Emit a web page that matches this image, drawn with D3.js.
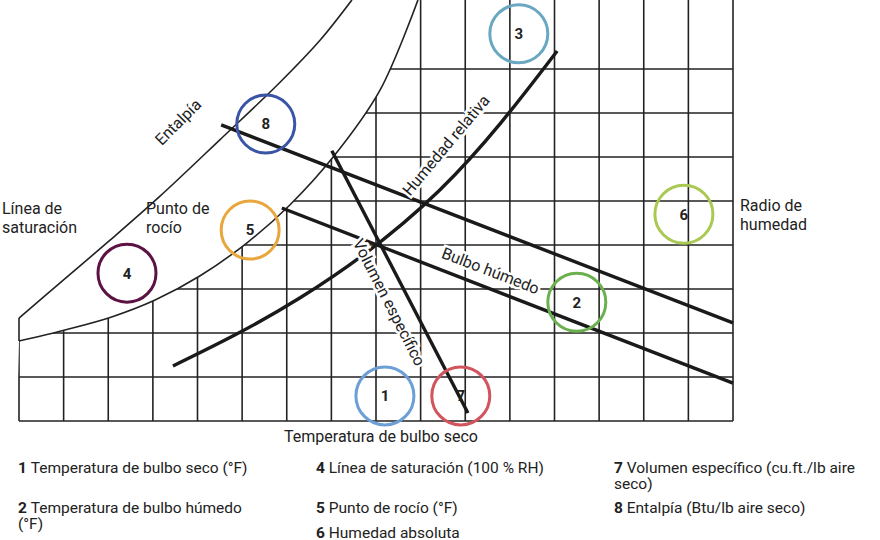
<!DOCTYPE html>
<html><head><meta charset="utf-8">
<script src="https://cdn.jsdelivr.net/npm/d3@7"></script>
<style>body{margin:0;background:#fff}</style>
</head><body><div id="chart"></div>
<script>
// chart units: x = dry-bulb grid index, y = humidity grid index
const gridX = d3.range(0, 17);
const gridY = d3.range(0, 9);
const saturation = [[0,1.82],[1.03,2.07],[2.06,2.36],[3.05,2.75],[4.06,3.3],[5.11,4.05],[6.07,4.91],[7.08,6.05],[8.09,7.52],[8.94,9.57]];
const enthalpyScale = [[0,2.34],[0.92,3.14],[2.04,4.11],[3.16,5.11],[4.5,6.39],[5.85,7.7],[6.75,8.66],[7.46,9.57]];
const rhCurve = [[3.45,1.25],[6.3,2.8],[9.43,5.25],[12.06,8.41]];
const enthalpyLine = [[4.53,6.73],[16,2.23]];
const wetBulbLine = [[5.89,4.84],[16,0.86]];
const volumeLine = [[7.01,6.14],[10.06,0.18]];
const markers = [
  {n:'1', x:8.2, y:0.57, c:'#6b9fd6'}, {n:'7', x:9.9, y:0.57, c:'#d2545d'},
  {n:'3', x:11.2, y:8.8, c:'#6aa8c2'}, {n:'8', x:5.53, y:6.75, c:'#3b55a6'},
  {n:'5', x:5.18, y:4.34, c:'#e9a63c'}, {n:'4', x:2.42, y:3.36, c:'#5c1242'},
  {n:'6', x:14.9, y:4.7, c:'#a9c952'}, {n:'2', x:12.5, y:2.7, c:'#6bb04e'}
];
const legend = [
  {n:'1', t:['Temperatura de bulbo seco (°F)'], col:0, row:0},
  {n:'2', t:['Temperatura de bulbo húmedo','(°F)'], col:0, row:1},
  {n:'4', t:['Línea de saturación (100 % RH)'], col:1, row:0},
  {n:'5', t:['Punto de rocío (°F)'], col:1, row:1},
  {n:'6', t:['Humedad absoluta'], col:1, row:2},
  {n:'7', t:['Volumen específico (cu.ft./lb aire','seco)'], col:2, row:0},
  {n:'8', t:['Entalpía (Btu/lb aire seco)'], col:2, row:1}
];

const W = 880, H = 540, FONT = 'Roboto, "Noto Sans", Arial, sans-serif';
const x = d3.scaleLinear().domain([0, 16]).range([19, 733]);
const y = d3.scaleLinear().domain([0, 8]).range([421, 69]);
const line = d3.line().x(d => x(d[0])).y(d => y(d[1]));
const curve = d3.line().x(d => x(d[0])).y(d => y(d[1])).curve(d3.curveCatmullRom);
const smooth = d3.line().x(d => x(d[0])).y(d => y(d[1])).curve(d3.curveNatural);

const svg = d3.select('#chart').append('svg').attr('width', W).attr('height', H);

// clip grid to the area under the saturation curve
svg.append('clipPath').attr('id', 'under').append('path')
  .attr('d', curve(saturation) + 'L' + x(16.05) + ',' + y(9.6) + 'L' + x(16.05) + ',' + y(-0.05) + 'L' + x(-0.05) + ',' + y(-0.05) + 'Z');

const grid = svg.append('g').attr('clip-path', 'url(#under)')
  .attr('stroke', '#222').attr('stroke-width', 1.6);
grid.selectAll('.v').data(gridX).join('line')
  .attr('x1', d => x(d)).attr('x2', d => x(d)).attr('y1', y(0)).attr('y2', 0);
grid.selectAll('.h').data(gridY).join('line')
  .attr('x1', x(0)).attr('x2', x(16)).attr('y1', d => y(d)).attr('y2', d => y(d));

svg.append('path').attr('d', curve(saturation)).attr('fill', 'none').attr('stroke', '#222').attr('stroke-width', 1.6);
svg.append('path').attr('d', curve(enthalpyScale)).attr('fill', 'none').attr('stroke', '#222').attr('stroke-width', 1.6);
svg.append('line').attr('x1', x(0)).attr('x2', x(0)).attr('y1', y(2.34)).attr('y2', y(1.82)).attr('stroke', '#222').attr('stroke-width', 1.6);

const thick = svg.append('g').attr('fill', 'none').attr('stroke', '#1a1a1a').attr('stroke-width', 3.4);
thick.append('path').attr('d', smooth(rhCurve));
thick.append('path').attr('d', line(enthalpyLine));
thick.append('path').attr('d', line(wetBulbLine));
thick.append('path').attr('d', line(volumeLine));

function label(txt, cx, cy, rot, halo) {
  const t = svg.append('text').attr('transform', `translate(${cx},${cy}) rotate(${rot})`)
    .attr('text-anchor', 'middle').attr('dominant-baseline', 'middle')
    .attr('font-family', FONT).attr('font-size', 16).attr('fill', '#222').text(txt);
  if (halo) t.attr('stroke', '#fff').attr('stroke-width', 5).attr('paint-order', 'stroke');
}
label('Entalpía', 179, 123, -45, false);
label('Humedad relativa', 447, 146, -50, true);
label('Volumen específico', 388, 303, 63, true);
label('Bulbo húmedo', 490, 272, 21, true);
label('Temperatura de bulbo seco', 381, 438, 0, false);

function block(lines, x0, y0) {
  const t = svg.append('text').attr('font-family', FONT).attr('font-size', 16).attr('fill', '#222');
  lines.forEach((s, i) => t.append('tspan').attr('x', x0).attr('y', y0 + i * 19).text(s));
}
block(['Línea de', 'saturación'], 2, 214);
block(['Punto de', 'rocío'], 146, 214);
block(['Radio de', 'humedad'], 740, 211);

const mk = svg.selectAll('.mk').data(markers).join('g')
  .attr('transform', d => `translate(${x(d.x)},${y(d.y)})`);
mk.append('circle').attr('r', 29).attr('fill', 'none').attr('stroke', d => d.c).attr('stroke-width', 3);
mk.append('text').attr('text-anchor', 'middle').attr('dy', '0.36em')
  .attr('font-family', FONT).attr('font-size', 15).attr('font-weight', 'bold').attr('fill', '#222')
  .text(d => d.n);

const colX = [18, 316, 614], rowY = [473, 513, 538];
legend.forEach(d => {
  const t = svg.append('text').attr('font-family', FONT).attr('font-size', 15.5).attr('fill', '#222');
  d.t.forEach((s, i) => {
    const sp = t.append('tspan').attr('x', colX[d.col]).attr('y', rowY[d.row] + i * 16);
    if (i === 0) { sp.append('tspan').attr('font-weight', 'bold').text(d.n + ' '); sp.append('tspan').text(s); }
    else sp.text(s);
  });
});
</script></body></html>
